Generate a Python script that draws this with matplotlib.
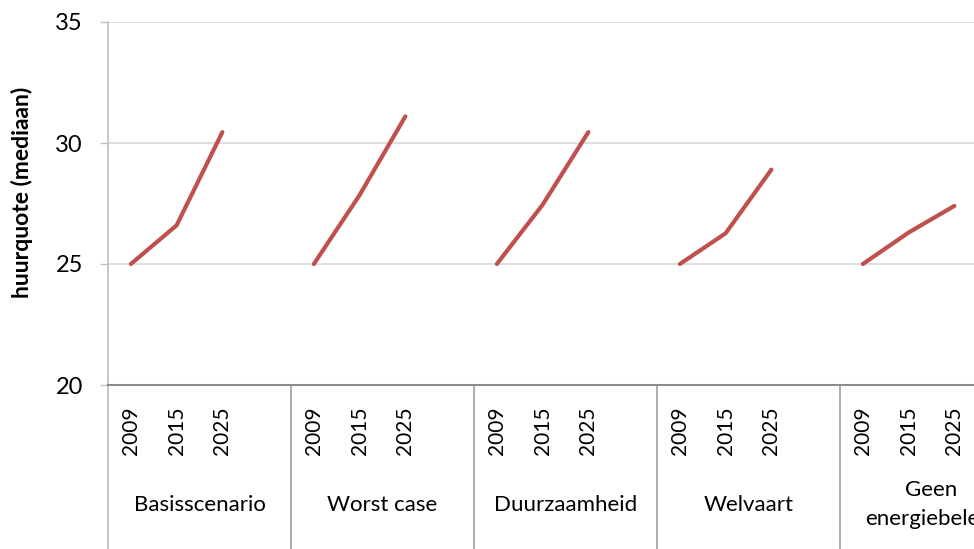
import matplotlib.pyplot as plt
from matplotlib import transforms

plt.rcParams['font.family'] = ['Lato', 'DejaVu Sans']

# data
scenarios = ['Basisscenario', 'Worst case', 'Duurzaamheid', 'Welvaart', 'Geen\nenergiebeleid']
years = ['2009', '2015', '2025']
basis = [25.0, 26.6, 30.45]
worst = [25.0, 27.85, 31.1]
duurzaam = [25.0, 27.45, 30.45]
welvaart = [25.0, 26.27, 28.9]
geen_beleid = [25.0, 26.3, 27.4]
series = [basis, worst, duurzaam, welvaart, geen_beleid]

red = '#C0504D'
slots = 4  # 3 years + one empty slot per scenario

fig = plt.figure(figsize=(9.74, 5.49), dpi=100)
ax = fig.add_axes([108/974, 1 - 385/549, 915/974, 363/549])

for g, vals in enumerate(series):
    xs = [g*slots + i for i in range(len(years))]
    ax.plot(xs, vals, color=red, lw=3, solid_capstyle='round', solid_joinstyle='round')

ax.set_xlim(-0.5, len(scenarios)*slots - 0.5)
ax.set_ylim(20, 35)
ax.set_yticks([20, 25, 30, 35])
ax.yaxis.grid(True, color='#D9D9D9', lw=1.2)
ax.set_axisbelow(True)
ax.set_xticks([])
ax.tick_params(axis='y', length=6, width=1, color='#BFBFBF', pad=12, labelsize=17)
for s in ['top', 'right']:
    ax.spines[s].set_visible(False)
ax.spines['left'].set_color('#BFBFBF')
ax.spines['left'].set_linewidth(1.2)
ax.spines['bottom'].set_color('#8C8C8C')
ax.spines['bottom'].set_linewidth(1.5)
ax.set_ylabel('huurquote (mediaan)', fontsize=16.5, fontweight='bold', va='center')
ax.yaxis.set_label_coords(-0.094, 0.53)

trans = transforms.blended_transform_factory(ax.transData, ax.transAxes)
for g, name in enumerate(scenarios):
    for i, yr in enumerate(years):
        ax.text(g*slots + i, -0.127, yr, transform=trans, rotation=90,
                ha='center', va='center', fontsize=15, clip_on=False)
    ax.text(g*slots + 1.5, -0.33, name, transform=trans, ha='center', va='center',
            fontsize=16, linespacing=1.55, clip_on=False)
    xsep = g*slots - 0.5
    ax.plot([xsep, xsep], [0, -0.5], transform=trans, color='#A6A6A6' if g else '#BFBFBF',
            lw=1.3, clip_on=False)

fig.savefig('out.png', dpi=100)
